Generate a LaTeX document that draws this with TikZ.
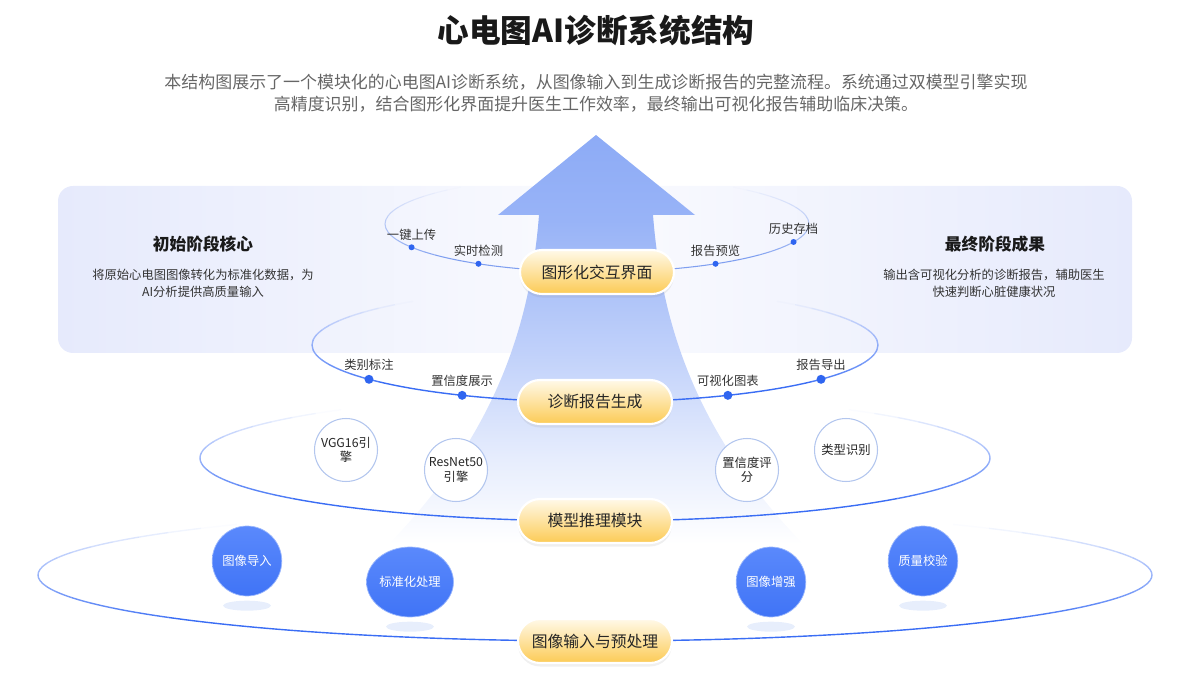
\documentclass[tikz,border=0pt]{standalone}
\usepackage{fontspec}
\setmainfont{Noto Sans CJK SC}
\usetikzlibrary{positioning,calc,shapes.geometric,shadows}

\definecolor{ringblue}{HTML}{3A6DF4}
\definecolor{ringpale}{HTML}{7F9FF0}
\definecolor{dotblue}{HTML}{2F65F0}
\definecolor{arrowtop}{HTML}{8DABF6}
\definecolor{panelside}{HTML}{E6EAFC}
\definecolor{pilltop}{HTML}{FFF9E8}
\definecolor{pillbot}{HTML}{FCCB55}
\definecolor{ballA}{HTML}{5A89FC}
\definecolor{ballB}{HTML}{4074F6}
\definecolor{engine}{HTML}{B3C6EE}
\definecolor{floor}{HTML}{E7EEFC}
\definecolor{subgray}{HTML}{666666}

% shaft colour, fading out to white towards the bottom
\pgfdeclareverticalshading{shaftfade}{100bp}{color(0bp)=(white); color(28bp)=(white);
  color(38bp)=(arrowtop!22); color(50bp)=(arrowtop!55); color(65bp)=(arrowtop!90);
  color(75bp)=(arrowtop); color(100bp)=(arrowtop)}

\tikzset{
  pill/.style={rectangle, rounded corners=0.44cm, minimum width=3.08cm, minimum height=0.88cm,
    top color=pilltop, bottom color=pillbot, draw=white, line width=1.2pt,
    font=\fontsize{9}{10}\selectfont, text=black!85,
    drop shadow={opacity=0.12, shadow xshift=0pt, shadow yshift=-2pt}},
  lbl/.style={font=\fontsize{7}{8}\selectfont, text=black!80, inner sep=1pt, label distance=1pt},
  dotsm/.style={circle, fill=dotblue, inner sep=0pt, minimum size=0.12cm},
  dotbig/.style={circle, fill=dotblue, inner sep=0pt, minimum size=0.18cm},
  engbox/.style={circle, fill=white, draw=engine, line width=0.6pt, minimum size=1.26cm, inner sep=0pt,
    align=center, font=\fontsize{7}{8}\selectfont, text=black!85},
  ball/.style={ellipse, minimum width=1.26cm, minimum height=1.4cm, inner sep=0pt,
    top color=ballA, bottom color=ballB, draw=ballA!60!white, line width=0.4pt,
    font=\fontsize{7}{8}\selectfont, text=white},
  ballfloor/.style={ellipse, minimum width=0.96cm, minimum height=0.2cm, inner sep=0pt, fill=floor},
  phead/.style={font=\fontsize{9.5}{11}\selectfont\bfseries, text=black!90},
  pdesc/.style={font=\fontsize{7}{9.6}\selectfont, text=black!80, align=center}
}

% ring: centre, x radius, y radius, colour, width (upper half fades out)
\newcommand\drawring[5]{%
  \draw[#4, line width=#5] ($(#1)+(40:#2 and #3)$) arc[start angle=40, end angle=140, x radius=#2, y radius=#3];
  \foreach \a in {140,145,...,225}{
    \pgfmathsetmacro\op{max(0,1-(\a-130)/97)}
    \pgfmathsetmacro\b{180-\a}
    \draw[#4, line width=#5, opacity=\op] ($(#1)+(\a:#2 and #3)$) arc[start angle=\a, end angle=\a+5, x radius=#2, y radius=#3];
    \draw[#4, line width=#5, opacity=\op] ($(#1)+(\b:#2 and #3)$) arc[start angle=\b, end angle=\b-5, x radius=#2, y radius=#3];
  }}

\begin{document}
\begin{tikzpicture}[x=0.02cm, y=-0.02cm]
  \useasboundingbox (0,0) rectangle (1200,695);

  % heading
  \node[font=\fontsize{18}{22}\selectfont\bfseries, text=black!90] (title) at (596,30) {心电图AI诊断系统结构};
  \node[font=\fontsize{9.65}{12.5}\selectfont, text=subgray, align=center] (intro) at (596,93)
    {本结构图展示了一个模块化的心电图AI诊断系统，从图像输入到生成诊断报告的完整流程。系统通过双模型引擎实现\\
     高精度识别，结合图形化界面提升医生工作效率，最终输出可视化报告辅助临床决策。};

  % side panel
  \shade[rounded corners=0.3cm, left color=panelside, right color=panelside, middle color=panelside!20]
    (58,186) rectangle (1132,353);
  \node[phead] (lhead) at (203,244) {初始阶段核心};
  \node[pdesc] (ldesc) at (203,283) {将原始心电图图像转化为标准化数据，为\\AI分析提供高质量输入};
  \node[phead] (rhead) at (995,244) {最终阶段成果};
  \node[pdesc] (rdesc) at (994,283) {输出含可视化分析的诊断报告，辅助医生\\快速判断心脏健康状况};

  % big arrow
  \shade[shading=shaftfade]
    (596,135) -- (695,215) -- (653,215) .. controls (662,330) and (700,450) .. (830,570)
    -- (362,570) .. controls (492,450) and (530,330) .. (539,215) -- (498,215) -- cycle;

  % rings
  \coordinate (r1) at (597,224);
  \coordinate (r2) at (595,345);
  \coordinate (r3) at (595,458);
  \coordinate (r4) at (595,575);
  \drawring{r1}{212}{48}{ringpale}{0.6pt}
  \drawring{r2}{283}{57}{ringblue}{0.8pt}
  \drawring{r3}{395}{63}{ringblue}{0.8pt}
  \drawring{r4}{557}{66}{ringblue}{0.8pt}

  % ring 1: interface
  \node[dotsm, label={[lbl]above:一键上传}] (upl) at ($(r1)+(151:212 and 48)$) {};
  \node[dotsm, label={[lbl]above:实时检测}] (det) at ($(r1)+(124:212 and 48)$) {};
  \node[dotsm, label={[lbl]above:报告预览}] (prev) at ($(r1)+(56:212 and 48)$) {};
  \node[dotsm, label={[lbl]above:历史存档}] (arch) at ($(r1)+(22:212 and 48)$) {};

  % ring 2: report
  \node[dotbig, label={[lbl]above:类别标注}] (cls) at ($(r2)+(143:283 and 57)$) {};
  \node[dotbig, label={[lbl]above:置信度展示}] (conf) at ($(r2)+(118:283 and 57)$) {};
  \node[dotbig, label={[lbl]above:可视化图表}] (chart) at ($(r2)+(62:283 and 57)$) {};
  \node[dotbig, label={[lbl]above:报告导出}] (expo) at ($(r2)+(37:283 and 57)$) {};

  % ring 3: engines
  \node[engbox] (vgg) at (346,450) {VGG16引\\擎};
  \node[engbox] (res) at (456,470) {ResNet50\\引擎};
  \node[engbox] (score) at (747,470) {置信度评\\分};
  \node[engbox] (type) at (846,450) {类型识别};

  % ring 4: preprocessing
  \node[ball] (imp) at (247,561) {图像导入};
  \node[ball] (norm) at (410,582) {标准化处理};
  \node[ball] (enh) at (771,582) {图像增强};
  \node[ball] (qc) at (923,561) {质量校验};
  \node[ballfloor, below=0.08cm of imp] (impf) {};
  \node[ballfloor, below=0.08cm of norm] (normf) {};
  \node[ballfloor, below=0.08cm of enh] (enhf) {};
  \node[ballfloor, below=0.08cm of qc] (qcf) {};

  % stage pills
  \node[pill] (gui) at ($(r1)+(90:212 and 48)$) {图形化交互界面};
  \node[pill] (rep) at ($(r2)+(90:283 and 57)$) {诊断报告生成};
  \node[pill] (inf) at ($(r3)+(90:395 and 63)$) {模型推理模块};
  \node[pill] (pre) at ($(r4)+(90:557 and 66)$) {图像输入与预处理};
\end{tikzpicture}
\end{document}
